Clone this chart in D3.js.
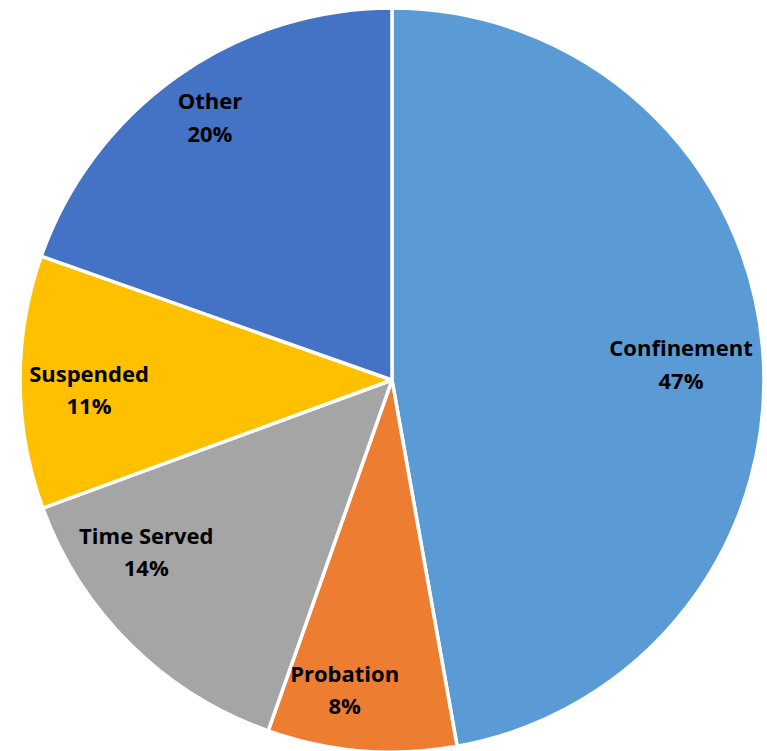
<html>
<head>
    <title>Sentence Types</title>
    <script src="https://d3js.org/d3.v7.min.js"></script>
    <style>
        body { margin: 0; background: #fff; }
        text { font-family: "Open Sans", "Liberation Sans", sans-serif; font-weight: 700; }
    </style>
</head>
<body>
    <svg id="chart" width="767" height="751"></svg>

    <script>
    // data, clockwise from 12 o'clock
    const categories = ["Confinement", "Probation", "Time Served", "Suspended", "Other"];
    const values = [47.2, 8.2, 14.0, 11.0, 19.6];
    const pctLabels = ["47%", "8%", "14%", "11%", "20%"];
    const colors = ["#5B9BD5", "#ED7D31", "#A5A5A5", "#FFC000", "#4472C4"];

    // label placement (radius as share of R, angle shift in degrees)
    const labelRadius = [0.778, 0.843, 0.807, 0.815, 0.858];
    const labelShift = [2, 4, 10.3, -1.6, 0.5];

    const svg = d3.select('#chart');
    const cx = 392, cy = 380, R = 372;

    const pie = d3.pie().sort(null).value(d => d);
    const arcs = pie(values);
    const arc = d3.arc().innerRadius(0).outerRadius(R);

    const g = svg.append('g').attr('transform', `translate(${cx},${cy})`);

    g.selectAll('path')
        .data(arcs)
        .enter()
        .append('path')
        .attr('d', arc)
        .attr('fill', (d, i) => colors[i])
        .attr('stroke', '#fff')
        .attr('stroke-width', 3.5)
        .attr('stroke-linejoin', 'round');

    const labels = g.selectAll('g.lbl')
        .data(arcs)
        .enter()
        .append('g')
        .attr('class', 'lbl')
        .attr('transform', (d, i) => {
            const a = (d.startAngle + d.endAngle) / 2 + labelShift[i] * Math.PI / 180;
            const r = R * labelRadius[i];
            return `translate(${r * Math.sin(a)},${-r * Math.cos(a)})`;
        });

    // two-line label: name, then share
    labels.append('text')
        .attr('text-anchor', 'middle')
        .attr('dominant-baseline', 'central')
        .attr('y', -17.5)
        .attr('font-size', 22)
        .attr('fill', '#000')
        .text((d, i) => categories[i]);

    labels.append('text')
        .attr('text-anchor', 'middle')
        .attr('dominant-baseline', 'central')
        .attr('y', 15)
        .attr('font-size', 22)
        .attr('fill', '#000')
        .text((d, i) => pctLabels[i]);
    </script>
</body>
</html>
